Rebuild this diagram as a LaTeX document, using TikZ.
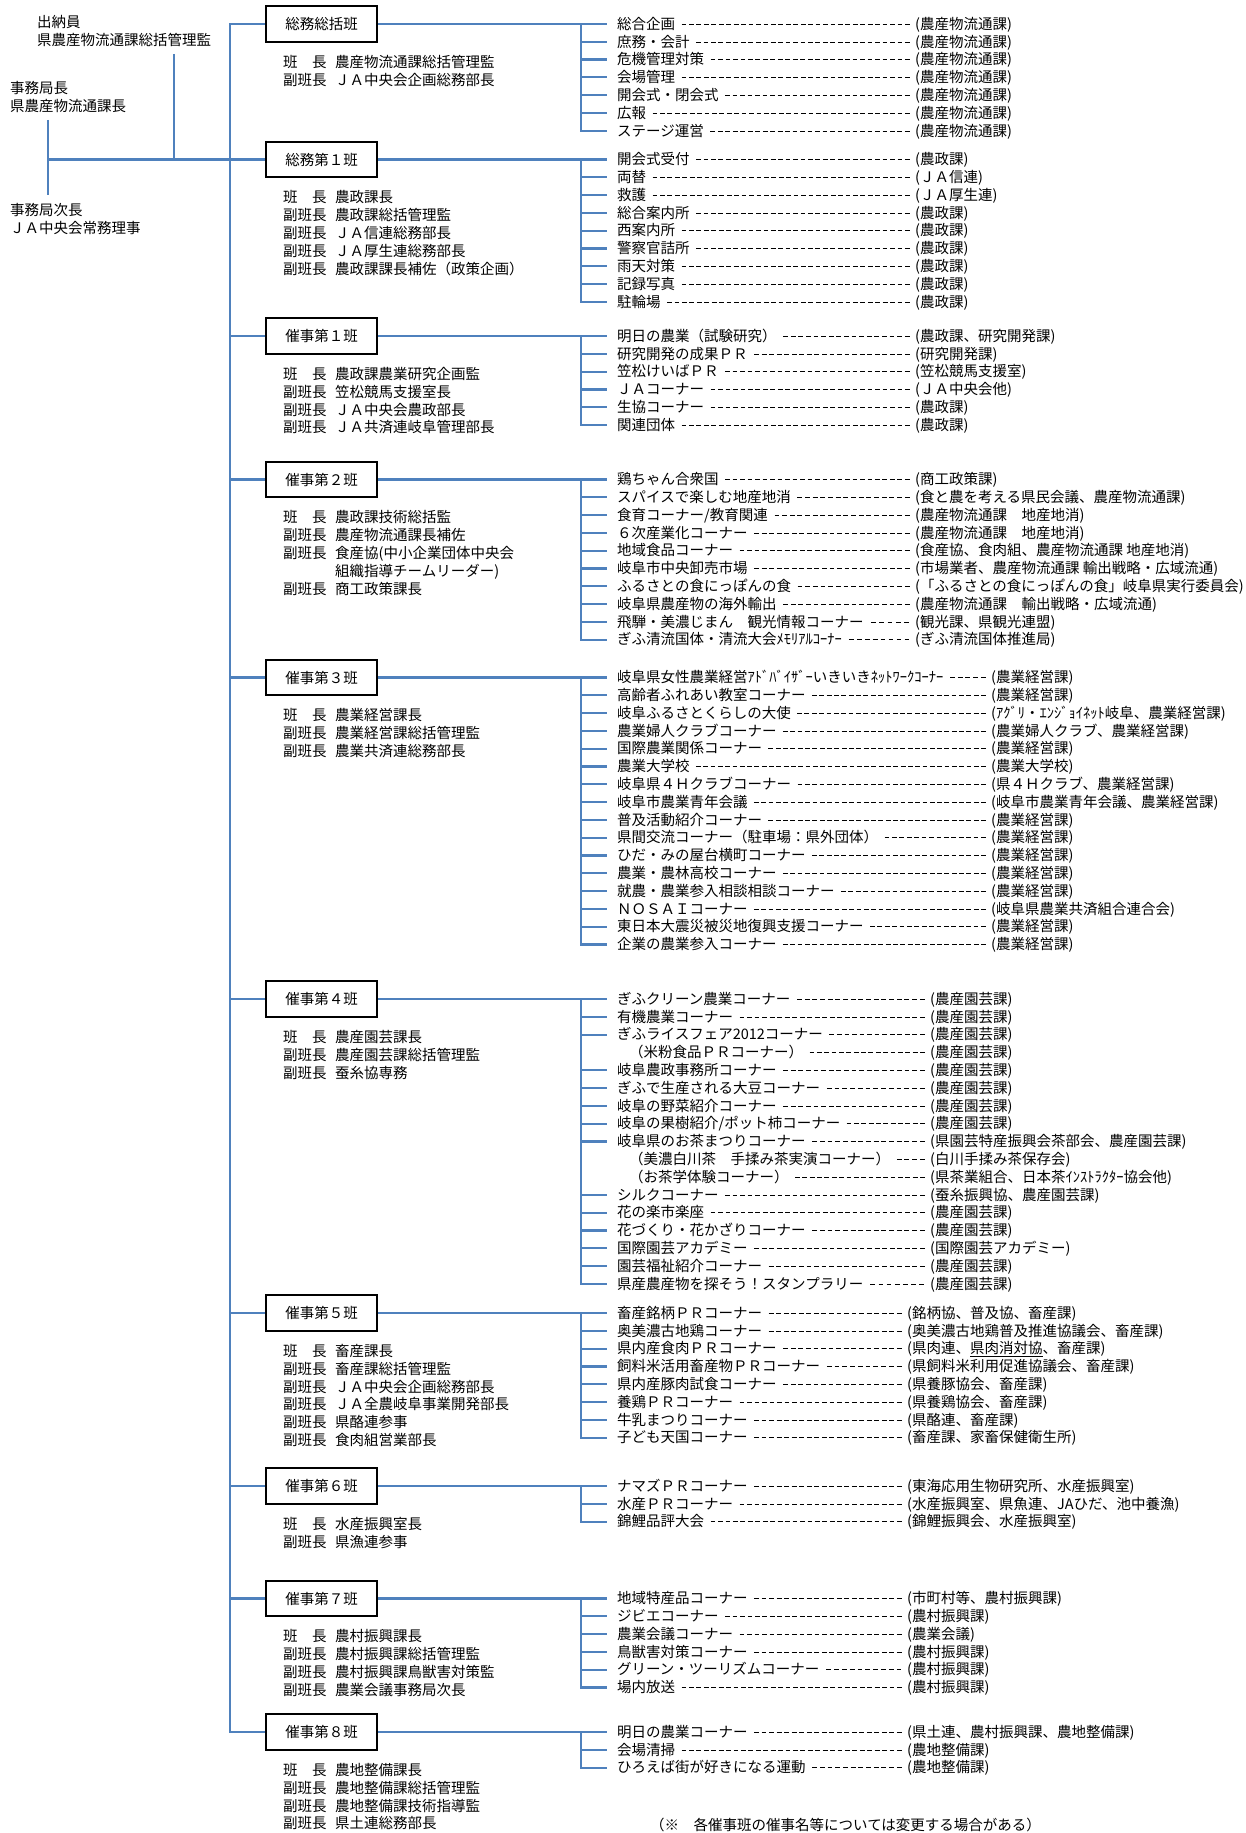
\documentclass[tikz,border=0pt]{standalone}
\usepackage{fontspec}
\newfontfamily\jp{Noto Sans CJK JP}
\definecolor{connblue}{RGB}{79,129,189}
\tikzset{
  conn/.style={draw=connblue, line width=2.2pt},
  bx/.style={draw=black, line width=2.4pt, minimum width=111pt, minimum height=35.5pt, inner sep=0pt, font=\jp\fontsize{14.5}{17}\selectfont},
  itm/.style={anchor=west, inner sep=0pt, text height=12.5pt, text depth=2pt, font=\jp\fontsize{14.5}{17}\selectfont}
}
\def\pitch{17.8}
\newcommand\dashfill{\xleaders\hbox to 7.3pt{\hss\rule[4.6pt]{4.8pt}{0.9pt}\hss}\hfill}
\newcommand\itm[4]{\node[itm] (#1) at (617,{\Y+#2*\pitch}) {\makebox[\W pt][l]{#3\hspace{5pt}\dashfill\hspace{4pt}}#4};}
\newcommand\mem[4]{\node[itm] (#1) at (283,{\Y+38+#2*17.9}) {\makebox[52pt][l]{#3}#4};}
\begin{document}
\begin{tikzpicture}[x=1pt,y=-1pt]
\useasboundingbox (0,0) rectangle (1245,1833);
\fill[white] (0,0) rectangle (1245,1833);

% left header
\node[itm] (cash1) at (37,22) {出納員};
\node[itm] (cash2) at (37,40) {県農産物流通課総括管理監};
\node[itm] (dir1) at (10,88) {事務局長};
\node[itm] (dir2) at (10,106) {県農産物流通課長};
\node[itm] (vdir1) at (10,210) {事務局次長};
\node[itm] (vdir2) at (10,228) {ＪＡ中央会常務理事};
\coordinate (cashbot) at (174,54);
\coordinate (dirbot) at (48,120);
\coordinate (vdirtop) at (48,195);
\coordinate (tk) at (230,0);

% ---------- A
\def\Y{24}\def\W{298}
\node[bx] (bA) at (321.5,\Y) {総務総括班};
\mem{mA1}{0}{班　長}{農産物流通課総括管理監}
\mem{mA2}{1}{副班長}{ＪＡ中央会企画総務部長}
\coordinate (brA) at (581,\Y);
\itm{A1}{0}{総合企画}{(農産物流通課)}
\itm{A2}{1}{庶務・会計}{(農産物流通課)}
\itm{A3}{2}{危機管理対策}{(農産物流通課)}
\itm{A4}{3}{会場管理}{(農産物流通課)}
\itm{A5}{4}{開会式・閉会式}{(農産物流通課)}
\itm{A6}{5}{広報}{(農産物流通課)}
\itm{A7}{6}{ステージ運営}{(農産物流通課)}

% ---------- B
\def\Y{159.5}\def\W{298}
\node[bx] (bB) at (321.5,\Y) {総務第１班};
\mem{mB1}{0}{班　長}{農政課長}
\mem{mB2}{1}{副班長}{農政課総括管理監}
\mem{mB3}{2}{副班長}{ＪＡ信連総務部長}
\mem{mB4}{3}{副班長}{ＪＡ厚生連総務部長}
\mem{mB5}{4}{副班長}{農政課課長補佐（政策企画）}
\coordinate (brB) at (581,\Y);
\itm{B1}{0}{開会式受付}{(農政課)}
\itm{B2}{1}{両替}{(ＪＡ信連)}
\itm{B3}{2}{救護}{(ＪＡ厚生連)}
\itm{B4}{3}{総合案内所}{(農政課)}
\itm{B5}{4}{西案内所}{(農政課)}
\itm{B6}{5}{警察官詰所}{(農政課)}
\itm{B7}{6}{雨天対策}{(農政課)}
\itm{B8}{7}{記録写真}{(農政課)}
\itm{B9}{8}{駐輪場}{(農政課)}

% ---------- C
\def\Y{336}\def\W{298}
\node[bx] (bC) at (321.5,\Y) {催事第１班};
\mem{mC1}{0}{班　長}{農政課農業研究企画監}
\mem{mC2}{1}{副班長}{笠松競馬支援室長}
\mem{mC3}{2}{副班長}{ＪＡ中央会農政部長}
\mem{mC4}{3}{副班長}{ＪＡ共済連岐阜管理部長}
\coordinate (brC) at (581,\Y);
\itm{C1}{0}{明日の農業（試験研究）}{(農政課、研究開発課)}
\itm{C2}{1}{研究開発の成果ＰＲ}{(研究開発課)}
\itm{C3}{2}{笠松けいばＰＲ}{(笠松競馬支援室)}
\itm{C4}{3}{ＪＡコーナー}{(ＪＡ中央会他)}
\itm{C5}{4}{生協コーナー}{(農政課)}
\itm{C6}{5}{関連団体}{(農政課)}

% ---------- D
\def\Y{479.5}\def\W{298}
\node[bx] (bD) at (321.5,\Y) {催事第２班};
\mem{mD1}{0}{班　長}{農政課技術総括監}
\mem{mD2}{1}{副班長}{農産物流通課長補佐}
\mem{mD3}{2}{副班長}{食産協(中小企業団体中央会}
\mem{mD4}{3}{}{組織指導チームリーダー)}
\mem{mD5}{4}{副班長}{商工政策課長}
\coordinate (brD) at (581,\Y);
\itm{D1}{0}{鶏ちゃん合衆国}{(商工政策課)}
\itm{D2}{1}{スパイスで楽しむ地産地消}{(食と農を考える県民会議、農産物流通課)}
\itm{D3}{2}{食育コーナー/教育関連}{(農産物流通課　地産地消)}
\itm{D4}{3}{６次産業化コーナー}{(農産物流通課　地産地消)}
\itm{D5}{4}{地域食品コーナー}{(食産協、食肉組、農産物流通課 地産地消)}
\itm{D6}{5}{岐阜市中央卸売市場}{(市場業者、農産物流通課 輸出戦略・広域流通)}
\itm{D7}{6}{ふるさとの食にっぽんの食}{(「ふるさとの食にっぽんの食」岐阜県実行委員会)}
\itm{D8}{7}{岐阜県農産物の海外輸出}{(農産物流通課　輸出戦略・広域流通)}
\itm{D9}{8}{飛騨・美濃じまん　観光情報コーナー}{(観光課、県観光連盟)}
\itm{D10}{9}{ぎふ清流国体・清流大会ﾒﾓﾘｱﾙｺｰﾅｰ}{(ぎふ清流国体推進局)}

% ---------- E
\def\Y{677.5}\def\W{374}
\node[bx] (bE) at (321.5,\Y) {催事第３班};
\mem{mE1}{0}{班　長}{農業経営課長}
\mem{mE2}{1}{副班長}{農業経営課総括管理監}
\mem{mE3}{2}{副班長}{農業共済連総務部長}
\coordinate (brE) at (581,\Y);
\itm{E1}{0}{岐阜県女性農業経営ｱﾄﾞﾊﾞｲｻﾞｰいきいきﾈｯﾄﾜｰｸｺｰﾅｰ}{(農業経営課)}
\itm{E2}{1}{高齢者ふれあい教室コーナー}{(農業経営課)}
\itm{E3}{2}{岐阜ふるさとくらしの大使}{(ｱｸﾞﾘ・ｴﾝｼﾞｮｲﾈｯﾄ岐阜、農業経営課)}
\itm{E4}{3}{農業婦人クラブコーナー}{(農業婦人クラブ、農業経営課)}
\itm{E5}{4}{国際農業関係コーナー}{(農業経営課)}
\itm{E6}{5}{農業大学校}{(農業大学校)}
\itm{E7}{6}{岐阜県４Ｈクラブコーナー}{(県４Ｈクラブ、農業経営課)}
\itm{E8}{7}{岐阜市農業青年会議}{(岐阜市農業青年会議、農業経営課)}
\itm{E9}{8}{普及活動紹介コーナー}{(農業経営課)}
\itm{E10}{9}{県間交流コーナー（駐車場：県外団体）}{(農業経営課)}
\itm{E11}{10}{ひだ・みの屋台横町コーナー}{(農業経営課)}
\itm{E12}{11}{農業・農林高校コーナー}{(農業経営課)}
\itm{E13}{12}{就農・農業参入相談相談コーナー}{(農業経営課)}
\itm{E14}{13}{ＮＯＳＡＩコーナー}{(岐阜県農業共済組合連合会)}
\itm{E15}{14}{東日本大震災被災地復興支援コーナー}{(農業経営課)}
\itm{E16}{15}{企業の農業参入コーナー}{(農業経営課)}

% ---------- F
\def\Y{999}\def\W{313}
\node[bx] (bF) at (321.5,\Y) {催事第４班};
\mem{mF1}{0}{班　長}{農産園芸課長}
\mem{mF2}{1}{副班長}{農産園芸課総括管理監}
\mem{mF3}{2}{副班長}{蚕糸協専務}
\coordinate (brF) at (581,\Y);
\itm{F1}{0}{ぎふクリーン農業コーナー}{(農産園芸課)}
\itm{F2}{1}{有機農業コーナー}{(農産園芸課)}
\itm{F3}{2}{ぎふライスフェア2012コーナー}{(農産園芸課)}
\itm{F4}{3}{\hspace{12pt}（米粉食品ＰＲコーナー）}{(農産園芸課)}
\itm{F5}{4}{岐阜農政事務所コーナー}{(農産園芸課)}
\itm{F6}{5}{ぎふで生産される大豆コーナー}{(農産園芸課)}
\itm{F7}{6}{岐阜の野菜紹介コーナー}{(農産園芸課)}
\itm{F8}{7}{岐阜の果樹紹介/ポット柿コーナー}{(農産園芸課)}
\itm{F9}{8}{岐阜県のお茶まつりコーナー}{(県園芸特産振興会茶部会、農産園芸課)}
\itm{F10}{9}{\hspace{12pt}（美濃白川茶　手揉み茶実演コーナー）}{(白川手揉み茶保存会)}
\itm{F11}{10}{\hspace{12pt}（お茶学体験コーナー）}{(県茶業組合、日本茶ｲﾝｽﾄﾗｸﾀｰ協会他)}
\itm{F12}{11}{シルクコーナー}{(蚕糸振興協、農産園芸課)}
\itm{F13}{12}{花の楽市楽座}{(農産園芸課)}
\itm{F14}{13}{花づくり・花かざりコーナー}{(農産園芸課)}
\itm{F15}{14}{国際園芸アカデミー}{(国際園芸アカデミー)}
\itm{F16}{15}{園芸福祉紹介コーナー}{(農産園芸課)}
\itm{F17}{16}{県産農産物を探そう！スタンプラリー}{(農産園芸課)}

% ---------- G
\def\Y{1313}\def\W{290}
\node[bx] (bG) at (321.5,\Y) {催事第５班};
\mem{mG1}{0}{班　長}{畜産課長}
\mem{mG2}{1}{副班長}{畜産課総括管理監}
\mem{mG3}{2}{副班長}{ＪＡ中央会企画総務部長}
\mem{mG4}{3}{副班長}{ＪＡ全農岐阜事業開発部長}
\mem{mG5}{4}{副班長}{県酪連参事}
\mem{mG6}{5}{副班長}{食肉組営業部長}
\coordinate (brG) at (581,\Y);
\itm{G1}{0}{畜産銘柄ＰＲコーナー}{(銘柄協、普及協、畜産課)}
\itm{G2}{1}{奥美濃古地鶏コーナー}{(奥美濃古地鶏普及推進協議会、畜産課)}
\itm{G3}{2}{県内産食肉ＰＲコーナー}{(県肉連、\underline{県肉消対協}、畜産課)}
\itm{G4}{3}{飼料米活用畜産物ＰＲコーナー}{(県飼料米利用促進協議会、畜産課)}
\itm{G5}{4}{県内産豚肉試食コーナー}{(県養豚協会、畜産課)}
\itm{G6}{5}{養鶏ＰＲコーナー}{(県養鶏協会、畜産課)}
\itm{G7}{6}{牛乳まつりコーナー}{(県酪連、畜産課)}
\itm{G8}{7}{子ども天国コーナー}{(畜産課、家畜保健衛生所)}

% ---------- H
\def\Y{1486}\def\W{290}
\node[bx] (bH) at (321.5,\Y) {催事第６班};
\mem{mH1}{0}{班　長}{水産振興室長}
\mem{mH2}{1}{副班長}{県漁連参事}
\coordinate (brH) at (581,\Y);
\itm{H1}{0}{ナマズＰＲコーナー}{(東海応用生物研究所、水産振興室)}
\itm{H2}{1}{水産ＰＲコーナー}{(水産振興室、県魚連、JAひだ、池中養漁)}
\itm{H3}{2}{錦鯉品評大会}{(錦鯉振興会、水産振興室)}

% ---------- I
\def\Y{1598.5}\def\W{290}
\node[bx] (bI) at (321.5,\Y) {催事第７班};
\mem{mI1}{0}{班　長}{農村振興課長}
\mem{mI2}{1}{副班長}{農村振興課総括管理監}
\mem{mI3}{2}{副班長}{農村振興課鳥獣害対策監}
\mem{mI4}{3}{副班長}{農業会議事務局次長}
\coordinate (brI) at (581,\Y);
\itm{I1}{0}{地域特産品コーナー}{(市町村等、農村振興課)}
\itm{I2}{1}{ジビエコーナー}{(農村振興課)}
\itm{I3}{2}{農業会議コーナー}{(農業会議)}
\itm{I4}{3}{鳥獣害対策コーナー}{(農村振興課)}
\itm{I5}{4}{グリーン・ツーリズムコーナー}{(農村振興課)}
\itm{I6}{5}{場内放送}{(農村振興課)}

% ---------- J
\def\Y{1732}\def\W{290}
\node[bx] (bJ) at (321.5,\Y) {催事第８班};
\mem{mJ1}{0}{班　長}{農地整備課長}
\mem{mJ2}{1}{副班長}{農地整備課総括管理監}
\mem{mJ3}{2}{副班長}{農地整備課技術指導監}
\mem{mJ4}{3}{副班長}{県土連総務部長}
\coordinate (brJ) at (581,\Y);
\itm{J1}{0}{明日の農業コーナー}{(県土連、農村振興課、農地整備課)}
\itm{J2}{1}{会場清掃}{(農地整備課)}
\itm{J3}{2}{ひろえば街が好きになる運動}{(農地整備課)}

\node[itm] (note) at (650,1825) {（※　各催事班の催事名等については変更する場合がある）};

% ---------- connectors, left
\draw[conn] (cashbot) -- (cashbot |- bB.west);
\draw[conn] (dirbot) -- (vdirtop);
\draw[conn] (dirbot |- bB.west) -- (tk |- bB.west);
\draw[conn] (bA.west) -- (tk |- bA.west) -- (tk |- bJ.west) -- (bJ.west);
\foreach \b in {bB,bC,bD,bE,bF,bG,bH,bI}
  \draw[conn] (tk |- \b.west) -- (\b.west);

% ---------- connectors, right brackets
\foreach \g/\n in {A/7,B/9,C/6,D/10,E/16,F/17,G/8,H/3,I/6,J/3}{
  \draw[conn] (b\g.east) -- ([xshift=-10pt]\g1.west);
  \draw[conn] (br\g) |- ([xshift=-10pt]\g\n.west);
}
\foreach \g/\last in {A/6,B/8,C/5,D/9,E/15,G/7,H/2,I/5,J/2}{
  \foreach \i in {2,...,\last}
    \draw[conn] (br\g |- \g\i.west) -- ([xshift=-10pt]\g\i.west);
}
\foreach \i in {2,3,5,6,7,8,9,12,13,14,15,16}
  \draw[conn] (brF |- F\i.west) -- ([xshift=-10pt]F\i.west);
\end{tikzpicture}
\end{document}
